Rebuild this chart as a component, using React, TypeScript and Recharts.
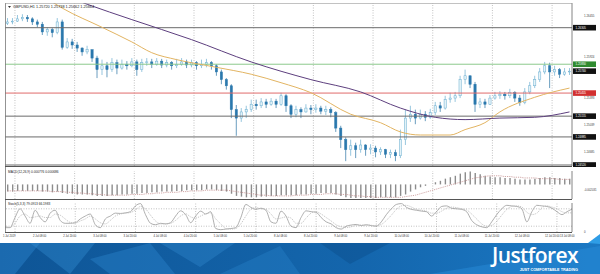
import { ComposedChart, Bar, Line, XAxis, YAxis, ReferenceLine } from 'recharts'

// GBPUSD candles (2h buckets)
const FIRST_OPEN = 1.2636
const CLOSE = [
  1.2638, 1.2639, 1.2642, 1.2644, 1.2642, 1.2638, 1.2635, 1.2625, 1.2628, 1.2624,
  1.2638, 1.2605, 1.2612, 1.2608, 1.2604, 1.2599, 1.2602, 1.2591, 1.2576, 1.2581,
  1.2576, 1.2585, 1.2578, 1.2583, 1.2581, 1.2586, 1.2576, 1.2585, 1.2586, 1.2583,
  1.2587, 1.2582, 1.2585, 1.2581, 1.2583, 1.2586, 1.2582, 1.2585, 1.2581, 1.2583,
  1.2585, 1.2581, 1.2573, 1.2563, 1.2555, 1.2524, 1.2513, 1.2521, 1.2524, 1.2531,
  1.2529, 1.2534, 1.2531, 1.2535, 1.2531, 1.2542, 1.2529, 1.2518, 1.2524, 1.2521,
  1.2526, 1.2524, 1.2526, 1.2522, 1.2524, 1.2520, 1.2500, 1.2485, 1.2472, 1.2477,
  1.2472, 1.2478, 1.2472, 1.2474, 1.2469, 1.2472, 1.2466, 1.2468, 1.2464, 1.2485,
  1.2513, 1.2518, 1.2513, 1.2518, 1.2514, 1.2520, 1.2529, 1.2526, 1.2537, 1.2539,
  1.2542, 1.2563, 1.2568, 1.2557, 1.2531, 1.2534, 1.2531, 1.2539, 1.2542, 1.2544,
  1.2542, 1.2546, 1.2539, 1.2533, 1.2547, 1.2555, 1.2563, 1.2573, 1.2581, 1.2573,
  1.2576, 1.2570, 1.2573, 1.2574,
]
const HIGH = [
  1.2643, 1.2643, 1.2647, 1.2648, 1.2647, 1.2644, 1.2641, 1.2638, 1.2631, 1.2630,
  1.2643, 1.2641, 1.2617, 1.2616, 1.2612, 1.2605, 1.2607, 1.2599, 1.2594, 1.2589,
  1.2586, 1.2591, 1.2589, 1.2589, 1.2587, 1.2591, 1.2589, 1.2590, 1.2591, 1.2590,
  1.2591, 1.2590, 1.2589, 1.2587, 1.2590, 1.2591, 1.2589, 1.2589, 1.2587, 1.2589,
  1.2590, 1.2587, 1.2583, 1.2576, 1.2565, 1.2557, 1.2530, 1.2526, 1.2529, 1.2537,
  1.2537, 1.2539, 1.2538, 1.2539, 1.2538, 1.2546, 1.2544, 1.2531, 1.2529, 1.2527,
  1.2531, 1.2530, 1.2531, 1.2529, 1.2529, 1.2527, 1.2522, 1.2503, 1.2488, 1.2485,
  1.2481, 1.2485, 1.2479, 1.2479, 1.2477, 1.2475, 1.2473, 1.2472, 1.2472, 1.2498,
  1.2524, 1.2529, 1.2524, 1.2524, 1.2522, 1.2525, 1.2534, 1.2534, 1.2542, 1.2546,
  1.2547, 1.2568, 1.2576, 1.2568, 1.2560, 1.2539, 1.2538, 1.2543, 1.2547, 1.2548,
  1.2547, 1.2551, 1.2548, 1.2543, 1.2552, 1.2560, 1.2568, 1.2578, 1.2586, 1.2585,
  1.2581, 1.2578, 1.2578, 1.2578,
]
const LOW = [
  1.2634, 1.2635, 1.2638, 1.2639, 1.2638, 1.2634, 1.2631, 1.2621, 1.2620, 1.2618,
  1.2622, 1.2602, 1.2603, 1.2603, 1.2599, 1.2594, 1.2596, 1.2586, 1.2565, 1.2569,
  1.2566, 1.2573, 1.2570, 1.2576, 1.2576, 1.2579, 1.2568, 1.2573, 1.2581, 1.2578,
  1.2581, 1.2578, 1.2579, 1.2576, 1.2578, 1.2581, 1.2578, 1.2579, 1.2576, 1.2578,
  1.2579, 1.2576, 1.2568, 1.2557, 1.2550, 1.2513, 1.2490, 1.2508, 1.2513, 1.2521,
  1.2524, 1.2526, 1.2526, 1.2529, 1.2526, 1.2529, 1.2521, 1.2513, 1.2514, 1.2513,
  1.2520, 1.2518, 1.2520, 1.2518, 1.2517, 1.2514, 1.2495, 1.2474, 1.2457, 1.2464,
  1.2461, 1.2468, 1.2464, 1.2466, 1.2462, 1.2465, 1.2461, 1.2461, 1.2457, 1.2461,
  1.2478, 1.2508, 1.2505, 1.2511, 1.2509, 1.2512, 1.2517, 1.2521, 1.2524, 1.2533,
  1.2534, 1.2539, 1.2557, 1.2552, 1.2521, 1.2526, 1.2526, 1.2530, 1.2537, 1.2538,
  1.2537, 1.2539, 1.2534, 1.2529, 1.2531, 1.2544, 1.2552, 1.2560, 1.2570, 1.2552,
  1.2568, 1.2565, 1.2568, 1.2569,
]

// moving averages: [bar, price]
const MA_FAST: [number, number][] = [
  [8, 1.2668], [11, 1.2656], [19, 1.2631], [25, 1.2612], [29, 1.2598], [34, 1.2589],
  [42, 1.2579], [49, 1.2570], [55, 1.2559], [61, 1.2546], [69, 1.2518], [75, 1.2507],
  [79, 1.2495], [83, 1.2491], [89, 1.2491], [92, 1.2498], [96, 1.2507], [99, 1.2521],
  [106, 1.2540], [113, 1.2552],
]
const MA_SLOW: [number, number][] = [
  [11, 1.2673], [16, 1.2661], [25, 1.2641], [37, 1.2615], [49, 1.2586], [61, 1.2563],
  [71, 1.2547], [79, 1.2526], [86, 1.2514], [92, 1.2511], [99, 1.2513], [106, 1.2514],
  [113, 1.2521],
]

const MACD_HIST = [
  -0.0010, -0.0010, -0.0009, -0.0009, -0.0009, -0.0009, -0.0009, -0.0010, -0.0010, -0.0011,
  -0.0010, -0.0012, -0.0013, -0.0013, -0.0014, -0.0014, -0.0014, -0.0015, -0.0016, -0.0016,
  -0.0016, -0.0015, -0.0015, -0.0014, -0.0014, -0.0013, -0.0013, -0.0012, -0.0012, -0.0011,
  -0.0011, -0.0010, -0.0010, -0.0010, -0.0009, -0.0009, -0.0008, -0.0008, -0.0008, -0.0008,
  -0.0007, -0.0007, -0.0008, -0.0009, -0.0010, -0.0013, -0.0016, -0.0017, -0.0018, -0.0018,
  -0.0018, -0.0017, -0.0017, -0.0016, -0.0016, -0.0015, -0.0015, -0.0015, -0.0015, -0.0014,
  -0.0014, -0.0013, -0.0013, -0.0012, -0.0012, -0.0012, -0.0014, -0.0016, -0.0018, -0.0019,
  -0.0019, -0.0019, -0.0019, -0.0019, -0.0019, -0.0018, -0.0018, -0.0018, -0.0018, -0.0016,
  -0.0014, -0.0010, -0.0007, -0.0004, -0.0002, 0.0000, 0.0003, 0.0005, 0.0008, 0.0010,
  0.0012, 0.0015, 0.0017, 0.0018, 0.0016, 0.0014, 0.0012, 0.0011, 0.0010, 0.0010,
  0.0009, 0.0009, 0.0008, 0.0007, 0.0007, 0.0007, 0.0008, 0.0009, 0.0010, 0.0010,
  0.0009, 0.0009, 0.0008, 0.0008,
]
const MACD_SIGNAL = [
  -0.0009, -0.0009, -0.0009, -0.0009, -0.0009, -0.0009, -0.0009, -0.0009, -0.0009, -0.0010,
  -0.0010, -0.0010, -0.0011, -0.0011, -0.0012, -0.0012, -0.0013, -0.0013, -0.0014, -0.0014,
  -0.0015, -0.0015, -0.0015, -0.0015, -0.0015, -0.0014, -0.0014, -0.0014, -0.0013, -0.0013,
  -0.0012, -0.0012, -0.0011, -0.0011, -0.0011, -0.0010, -0.0010, -0.0009, -0.0009, -0.0009,
  -0.0008, -0.0008, -0.0008, -0.0008, -0.0008, -0.0009, -0.0010, -0.0011, -0.0012, -0.0013,
  -0.0014, -0.0015, -0.0015, -0.0016, -0.0016, -0.0016, -0.0016, -0.0016, -0.0015, -0.0015,
  -0.0015, -0.0014, -0.0014, -0.0014, -0.0013, -0.0013, -0.0013, -0.0014, -0.0014, -0.0015,
  -0.0016, -0.0016, -0.0017, -0.0017, -0.0018, -0.0018, -0.0018, -0.0018, -0.0018, -0.0018,
  -0.0017, -0.0016, -0.0015, -0.0013, -0.0011, -0.0009, -0.0007, -0.0005, -0.0003, -0.0001,
  0.0001, 0.0003, 0.0005, 0.0007, 0.0009, 0.0010, 0.0011, 0.0012, 0.0012, 0.0012,
  0.0011, 0.0011, 0.0010, 0.0010, 0.0009, 0.0009, 0.0009, 0.0008, 0.0008, 0.0008,
  0.0008, 0.0007, 0.0007, 0.0007,
]

const STOCH_MAIN = [
  15, 15, 50, 80, 55, 30, 75, 50, 35, 65,
  75, 40, 30, 30, 32, 45, 55, 62, 25, 15,
  45, 55, 65, 64, 66, 70, 90, 98, 60, 30,
  25, 30, 28, 32, 55, 73, 60, 32, 55, 72,
  62, 70, 12, 8, 10, 12, 15, 50, 95, 85,
  78, 82, 75, 35, 30, 72, 55, 20, 15, 50,
  73, 70, 68, 50, 35, 28, 15, 10, 20, 24,
  26, 22, 25, 22, 20, 35, 60, 80, 95, 98,
  85, 78, 75, 72, 70, 55, 70, 88, 90, 82,
  80, 78, 70, 40, 25, 18, 15, 35, 60, 80,
  92, 90, 88, 80, 35, 70, 92, 90, 88, 82,
  70, 60, 70, 79,
]
const STOCH_SIGNAL = [
  20, 16, 30, 55, 62, 50, 52, 55, 50, 50,
  62, 58, 45, 33, 31, 38, 45, 55, 45, 32,
  28, 40, 55, 62, 65, 67, 76, 88, 80, 58,
  38, 28, 28, 30, 40, 55, 63, 52, 48, 55,
  63, 66, 45, 28, 12, 10, 12, 28, 55, 78,
  84, 80, 78, 62, 45, 48, 52, 48, 30, 30,
  48, 65, 70, 62, 50, 38, 25, 18, 15, 18,
  23, 24, 24, 23, 22, 26, 40, 58, 78, 90,
  92, 86, 78, 75, 72, 65, 65, 72, 82, 86,
  84, 80, 76, 62, 45, 28, 20, 23, 37, 58,
  78, 88, 90, 86, 68, 60, 65, 84, 90, 86,
  80, 70, 66, 66,
]

const TIME_LABELS = [
  '1 Jul 2019', '2 Jul 08:00', '2 Jul 20:00', '3 Jul 08:00', '3 Jul 20:00',
  '4 Jul 08:00', '4 Jul 20:00', '5 Jul 08:00', '5 Jul 20:00', '8 Jul 08:00',
  '8 Jul 20:00', '9 Jul 08:00', '9 Jul 20:00', '10 Jul 08:00', '10 Jul 20:00',
  '11 Jul 08:00', '11 Jul 20:00', '12 Jul 08:00', '12 Jul 20:00', '13 Jul 08:00',
]
const TIME_TICK_BARS = [0, 6, 12, 18, 24, 30, 36, 42, 48, 54, 60, 66, 72, 78, 84, 90, 96, 102, 108, 111]
const GRID_BARS = [2, 14, 26, 38, 50, 62, 74, 86, 98, 110]

const PRICE_TICKS = [1.26455, 1.26101, 1.25924, 1.25570, 1.25393, 1.25216, 1.25039, 1.24685]
const LEVELS = [
  { price: 1.26305, line: '#6b6b6b', box: '#111' },
  { price: 1.2583, line: '#8cc98c', box: '#2f8a2f' },
  { price: 1.25455, line: '#e06a6a', box: '#d23030' },
  { price: 1.25155, line: '#6b6b6b', box: '#111' },
  { price: 1.24885, line: '#6b6b6b', box: '#111' },
  { price: 1.2452, line: '#6b6b6b', box: '#111' },
]
const MACD_TICKS = [0.001867, 0, -0.002031]
const MACD_TICK_LABELS = ['0.001867', '0.00', '-0.002031']
const STOCH_TICKS = [100, 80, 20, 0]

const lookup = (pts: [number, number][], i: number) => {
  const p = pts.find(q => q[0] === i)
  return p ? p[1] : null
}

const bars = CLOSE.map((c, i) => ({
  i,
  open: i === 0 ? FIRST_OPEN : CLOSE[i - 1],
  close: c,
  high: HIGH[i],
  low: LOW[i],
  range: [LOW[i], HIGH[i]],
  maFast: lookup(MA_FAST, i),
  maSlow: lookup(MA_SLOW, i),
  hist: MACD_HIST[i],
  signal: MACD_SIGNAL[i],
  k: STOCH_MAIN[i],
  d: STOCH_SIGNAL[i],
}))

const FONT = '"Liberation Sans", Arial, sans-serif'
const W = 600
const AXIS_W = 28

function Candle(props: any) {
  const { x, y, width, height, payload } = props
  const top = Math.min(y, y + height)
  const h = Math.abs(height)
  const span = payload.high - payload.low || 1e-9
  const py = (v: number) => top + ((payload.high - v) / span) * h
  const cx = x + width / 2
  const up = payload.close >= payload.open
  const b1 = py(Math.max(payload.open, payload.close))
  const b2 = py(Math.min(payload.open, payload.close))
  const bw = Math.max(1.6, width * 0.45)
  return (
    <g>
      <line x1={cx} x2={cx} y1={top} y2={top + h} stroke={up ? '#6aaed0' : '#2a72a3'} strokeWidth={0.7} />
      <rect
        x={cx - bw / 2}
        y={b1}
        width={bw}
        height={Math.max(0.8, b2 - b1)}
        fill={up ? '#e3f2f8' : '#2a78ad'}
        stroke={up ? '#6aaed0' : '#2a78ad'}
        strokeWidth={0.5}
      />
    </g>
  )
}

function PriceTick({ x, y, payload }: any) {
  return (
    <text x={x + 4} y={y + 1} fontSize={2.9} fill="#444" fontFamily={FONT}>
      {payload.value.toFixed(5)}
    </text>
  )
}

function LevelBox({ viewBox, text, fill }: any) {
  if (!viewBox) return null
  const bx = viewBox.x + viewBox.width + 1
  return (
    <g>
      <rect x={bx} y={viewBox.y - 2.8} width={23} height={5.6} fill={fill} />
      <text x={bx + 2.5} y={viewBox.y + 1.1} fontSize={2.9} fill="#fff" fontFamily={FONT}>{text}</text>
    </g>
  )
}

function MacdTick({ x, y, payload }: any) {
  const k = MACD_TICKS.indexOf(payload.value)
  return (
    <text x={x + 4} y={y + 1} fontSize={2.8} fill="#444" fontFamily={FONT}>{MACD_TICK_LABELS[k]}</text>
  )
}

function StochTick({ x, y, payload }: any) {
  return (
    <text x={x + 4} y={y + 1} fontSize={2.8} fill="#444" fontFamily={FONT}>{payload.value}</text>
  )
}

function TimeTick({ x, y, payload }: any) {
  const k = TIME_TICK_BARS.indexOf(payload.value)
  if (k < 0) return <g />
  return (
    <text x={x - 2} y={y - 3} fontSize={2.7} fill="#333" fontFamily={FONT}>{TIME_LABELS[k]}</text>
  )
}

function Grid() {
  return GRID_BARS.map(g => (
    <ReferenceLine key={g} x={g} position="start" stroke="#9a9a9a" strokeWidth={0.6} strokeDasharray="1 1.5" />
  ))
}

function Banner() {
  return (
    <svg width={W} height={40} style={{ position: 'absolute', left: 0, top: 234 }}>
      <defs>
        <linearGradient id="bn" x1="0" y1="0" x2="1" y2="0">
          <stop offset="0" stopColor="#0e5596" />
          <stop offset="0.6" stopColor="#1466ad" />
          <stop offset="1" stopColor="#1b79c4" />
        </linearGradient>
      </defs>
      <rect x={0} y={9} width={W} height={31} fill="url(#bn)" />
      <polygon points="0,9 40,9 15,40 0,40" fill="#2c86cf" opacity={0.45} />
      <polygon points="30,9 95,9 70,40" fill="#3a95db" opacity={0.35} />
      <polygon points="90,25 150,9 175,40 110,40" fill="#2c86cf" opacity={0.4} />
      <polygon points="160,9 235,9 200,33" fill="#3a95db" opacity={0.3} />
      <polygon points="220,40 280,12 300,40" fill="#2c86cf" opacity={0.35} />
      <polygon points="320,9 390,9 350,30" fill="#0a4a86" opacity={0.4} />
      <polygon points="430,40 600,12 600,40" fill="#2a8fdc" opacity={0.45} />
      <polygon points="588,9 600,0 600,10" fill="#2f9de6" />
      <text x={492} y={29} fontSize={21} fontWeight={600} fill="#fff" fontFamily='"Open Sans", sans-serif' letterSpacing={-0.6}>
        Justforex
      </text>
      <text x={578} y={37} fontSize={3.8} fontWeight={700} fill="#fff" textAnchor="end" fontFamily={FONT}>
        JUST COMFORTABLE TRADING
      </text>
    </svg>
  )
}

export default function App() {
  const last = bars[bars.length - 1]
  return (
    <div style={{ position: 'absolute', left: 0, top: 0, width: W, height: 274, background: '#fff', overflow: 'hidden' }}>
      <div style={{ position: 'absolute', left: 0, top: 0 }}>
        <ComposedChart width={W} height={167} data={bars} margin={{ top: 3, right: 0, bottom: 1, left: 5 }} barCategoryGap={0}>
          <XAxis dataKey="i" hide />
          <YAxis
            orientation="right"
            width={AXIS_W}
            domain={[1.24507, 1.26626]}
            ticks={PRICE_TICKS}
            allowDataOverflow
            tick={<PriceTick />}
            tickLine={false}
            axisLine={{ stroke: '#666', strokeWidth: 0.8 }}
          />
          {Grid()}
          {LEVELS.map(l => (
            <ReferenceLine
              key={l.price}
              y={l.price}
              stroke={l.line}
              strokeWidth={1}
              label={(p: any) => <LevelBox viewBox={p.viewBox} text={l.price.toFixed(5)} fill={l.box} />}
            />
          ))}
          <ReferenceLine
            y={last.close}
            stroke="none"
            label={(p: any) => <LevelBox viewBox={p.viewBox} text={last.close.toFixed(5)} fill="#111" />}
          />
          <Bar dataKey="range" shape={<Candle />} isAnimationActive={false} />
          <Line dataKey="maFast" type="monotone" stroke="#e2b462" strokeWidth={1} dot={false} connectNulls isAnimationActive={false} />
          <Line dataKey="maSlow" type="monotone" stroke="#5d3f7e" strokeWidth={1} dot={false} connectNulls isAnimationActive={false} />
        </ComposedChart>
      </div>

      <div style={{ position: 'absolute', left: 0, top: 167 }}>
        <ComposedChart width={W} height={32} data={bars} margin={{ top: 4, right: 0, bottom: 0, left: 5 }} barCategoryGap={0}>
          <XAxis dataKey="i" hide />
          <YAxis
            orientation="right"
            width={AXIS_W}
            domain={[-0.002031, 0.001867]}
            ticks={MACD_TICKS}
            allowDataOverflow
            tick={<MacdTick />}
            tickLine={false}
            axisLine={{ stroke: '#666', strokeWidth: 0.8 }}
          />
          {Grid()}
          <Bar dataKey="hist" fill="#8c8c8c" barSize={1.4} isAnimationActive={false} />
          <Line dataKey="signal" type="monotone" stroke="#c48f8f" strokeWidth={0.8} strokeDasharray="1.2 1" dot={false} isAnimationActive={false} />
        </ComposedChart>
      </div>

      <div style={{ position: 'absolute', left: 0, top: 200 }}>
        <ComposedChart width={W} height={41} data={bars} margin={{ top: 3, right: 0, bottom: 0, left: 5 }}>
          <XAxis
            dataKey="i"
            interval={0}
            height={9}
            axisLine={false}
            tickLine={false}
            tick={<TimeTick />}
          />
          <YAxis
            orientation="right"
            width={AXIS_W}
            domain={[0, 100]}
            ticks={STOCH_TICKS}
            tick={<StochTick />}
            tickLine={false}
            axisLine={{ stroke: '#666', strokeWidth: 0.8 }}
          />
          {Grid()}
          <ReferenceLine y={80} stroke="#999" strokeWidth={0.6} strokeDasharray="1 1.5" />
          <ReferenceLine y={20} stroke="#999" strokeWidth={0.6} strokeDasharray="1 1.5" />
          <Line dataKey="k" type="monotone" stroke="#9a9a9a" strokeWidth={0.8} dot={false} isAnimationActive={false} />
          <Line dataKey="d" type="monotone" stroke="#b8b8b8" strokeWidth={0.8} strokeDasharray="1.2 1" dot={false} isAnimationActive={false} />
        </ComposedChart>
      </div>

      <svg width={W} height={240} style={{ position: 'absolute', left: 0, top: 0, pointerEvents: 'none' }}>
        <line x1={5.5} x2={5.5} y1={3} y2={232} stroke="#777" strokeWidth={0.8} />
        <line x1={5} x2={572} y1={3.5} y2={3.5} stroke="#999" strokeWidth={0.6} />
        <line x1={5} x2={572} y1={166.5} y2={166.5} stroke="#555" strokeWidth={1} />
        <line x1={5} x2={572} y1={199.5} y2={199.5} stroke="#555" strokeWidth={1} />
        <line x1={5} x2={572} y1={232.5} y2={232.5} stroke="#555" strokeWidth={1} />
        <polygon points="8,6 11,6 9.5,8" fill="#333" />
        <text x={13} y={8.3} fontSize={3.8} fill="#222" fontFamily={FONT}>GBPUSD,H1  1.25720 1.25738 1.25662 1.25664</text>
        <text x={8} y={173} fontSize={3.2} fill="#222" fontFamily={FONT}>MACD(12,26,9) 0.000776 0.000686</text>
        <text x={8} y={205} fontSize={3.2} fill="#222" fontFamily={FONT}>Stoch(5,3,3) 79.0913 66.1983</text>
      </svg>

      <Banner />
    </div>
  )
}
